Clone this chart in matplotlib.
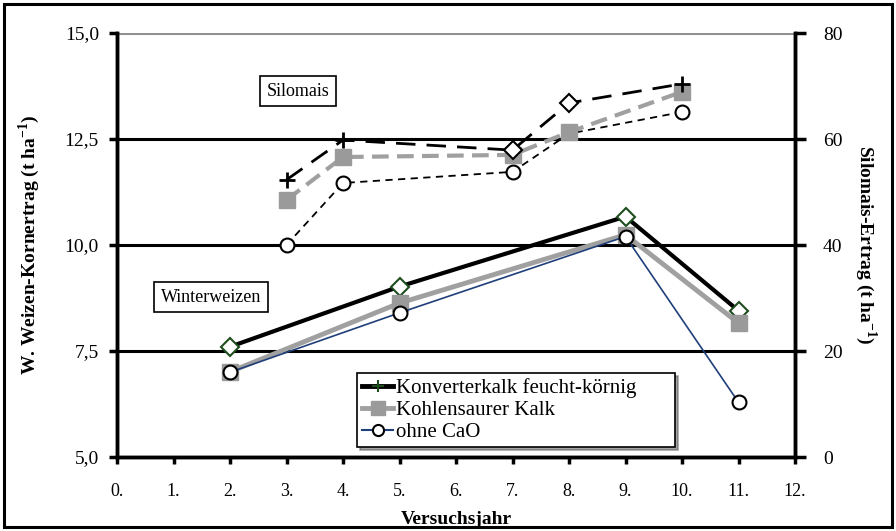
import matplotlib
matplotlib.use("Agg")
import matplotlib.pyplot as plt
from matplotlib.lines import Line2D
from matplotlib.patches import Rectangle

plt.rcParams['font.family'] = ['Liberation Serif', 'DejaVu Serif']
plt.rcParams['mathtext.fontset'] = 'custom'
plt.rcParams['mathtext.rm'] = 'Liberation Serif'
plt.rcParams['mathtext.bf'] = 'Liberation Serif:bold'

# --- data ---
years_ww = [2, 5, 9, 11]
ww_konverter = [7.60, 9.02, 10.67, 8.45]
ww_kohlen = [7.01, 8.63, 10.24, 8.16]
ww_ohne = [7.00, 8.40, 10.20, 6.29]

years_sm = [3, 4, 7, 8, 10]
sm_konverter = [52.3, 59.8, 57.9, 66.8, 70.4]
sm_kohlen = [48.5, 56.6, 57.0, 61.3, 68.9]
sm_ohne = [40.0, 51.7, 53.8, 61.0, 65.1]

xticks = list(range(0, 13))
xticklabels = [f"{i}." for i in xticks]
left_ticks = [5.0, 7.5, 10.0, 12.5, 15.0]
left_ticklabels = ["5,0", "7,5", "10,0", "12,5", "15,0"]
right_ticks = [0, 20, 40, 60, 80]
legend_labels = ["Konverterkalk feucht-körnig", "Kohlensaurer Kalk", "ohne CaO"]

serif = ['Liberation Serif', 'DejaVu Serif']

fig = plt.figure(figsize=(8.96, 5.31), dpi=100)
ax = fig.add_axes([117/896, 1-457/531, (795-117)/896, (457-33)/531])
ax2 = ax.twinx()

# outer frame
fig.patches.append(Rectangle((4/896, 4/531), 888/896, 523/531, transform=fig.transFigure,
                             fill=False, edgecolor='black', linewidth=2.2))

ax.set_xlim(0, 12)
ax.set_ylim(5, 15)
ax2.set_ylim(0, 80)

# grid lines
for v in [7.5, 10.0, 12.5]:
    ax.axhline(v, color='black', lw=2.2, zorder=1)
ax.axhline(15.0, color='#909090', lw=2.2, zorder=1)

for a in (ax, ax2):
    a.spines['top'].set_visible(False)
    for s in ['left', 'right', 'bottom']:
        a.spines[s].set_linewidth(2.5)
        a.spines[s].set_color('black')

ax.set_xticks(xticks)
ax.set_xticklabels(xticklabels, fontsize=13)
ax.set_yticks(left_ticks)
ax.set_yticklabels(left_ticklabels, fontsize=14)
ax2.set_yticks(right_ticks)
ax2.set_yticklabels([str(t) for t in right_ticks], fontsize=14)
ax.tick_params(axis='x', direction='out', length=5, width=2.5, pad=14)
ax.tick_params(axis='y', direction='out', length=6, width=2.5, pad=7)
ax2.tick_params(axis='y', direction='out', length=8, width=2.5, pad=12)

ax.set_xlabel("Versuchsjahr", fontsize=14, fontweight='bold', labelpad=8)
ax.set_ylabel(r"W. Weizen-Kornertrag (t ha$^{\mathbf{-1}}$)", fontsize=14, fontweight='bold', labelpad=16)
ax2.set_ylabel(r"Silomais-Ertrag (t ha$^{\mathbf{-1}}$)", fontsize=14, fontweight='bold',
               rotation=270, labelpad=26)

# --- Winterweizen (left axis) ---
ax.plot(years_ww, ww_konverter, color='black', lw=3, marker='D', ms=9,
        mfc='white', mec='#1d4d1d', mew=1.5, zorder=3)
ax.plot(years_ww, ww_kohlen, color='#a0a0a0', lw=3.5, marker='s', ms=11,
        mfc='#9a9a9a', mec='#9a9a9a', zorder=4)
ax.plot(years_ww, ww_ohne, color='#1f3f7a', lw=1.2, marker='o', ms=10,
        mfc='white', mec='black', mew=1.5, zorder=5)

# --- Silomais (right axis) ---
ax2.plot(years_sm, sm_ohne, color='black', lw=1.3, dashes=(4, 3), marker='o', ms=10,
         mfc='white', mec='black', mew=1.5, markevery=[0, 1, 2, 4], zorder=3)
ax2.plot(years_sm, sm_kohlen, color='#a0a0a0', lw=3, dashes=(4, 2), marker='s', ms=11,
         mfc='#9a9a9a', mec='#9a9a9a', zorder=4)
ax2.plot(years_sm, sm_konverter, color='black', lw=2, dashes=(7, 4), zorder=5)
ax2.plot([years_sm[i] for i in (0, 1, 4)], [sm_konverter[i] for i in (0, 1, 4)],
         ls='none', marker='+', ms=12, mew=2, color='black', zorder=6)
ax2.plot([years_sm[i] for i in (2, 3)], [sm_konverter[i] for i in (2, 3)],
         ls='none', marker='D', ms=9, mfc='white', mec='black', mew=1.5, zorder=6)

# text boxes
box = dict(boxstyle='square,pad=0.35', facecolor='white', edgecolor='black', lw=1.2)
ax.text((298-117)/678, (457-91)/424, "Silomais", transform=ax.transAxes, fontsize=13,
        family=serif, ha='center', va='center', bbox=box, zorder=7)
ax.text((211-117)/678, (457-297)/424, "Winterweizen", transform=ax.transAxes, fontsize=13,
        family=serif, ha='center', va='center', bbox=box, zorder=7)

# legend
handles = [
    Line2D([], [], color='black', lw=3.5, marker='+', ms=9, mew=1.5, mec='#1d4d1d'),
    Line2D([], [], color='#a0a0a0', lw=3.5, marker='s', ms=10, mfc='#9a9a9a', mec='#9a9a9a'),
    Line2D([], [], color='#1f3f7a', lw=1.5, marker='o', ms=8, mfc='white', mec='black', mew=1.5),
]
leg = ax2.legend(handles, legend_labels, loc='lower left',
                 bbox_to_anchor=((357-117)/678, (457-447)/424, (675-357)/678, (447-358)/424),
                 mode='expand', prop={'family': serif, 'size': 15}, frameon=True,
                 fancybox=False, shadow=True,
                 handlelength=1.5, handletextpad=0.1, borderpad=0.25, labelspacing=0.1,
                 borderaxespad=0)
leg.get_frame().set_edgecolor('black')
leg.get_frame().set_linewidth(1.2)
leg.set_zorder(10)

fig.savefig("out.png", dpi=100)
